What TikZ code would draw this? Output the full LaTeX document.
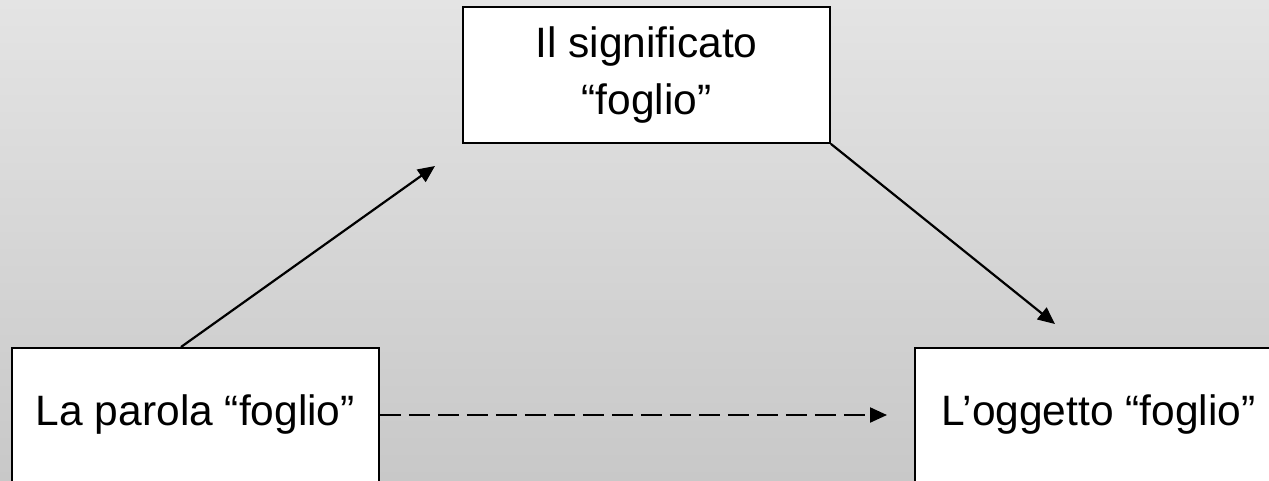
\documentclass[tikz,border=0pt]{standalone}
\usepackage{fontspec}
\setmainfont{Liberation Sans}
\usetikzlibrary{arrows.meta,calc}
\definecolor{bgtop}{HTML}{E4E4E4}
\definecolor{bgbot}{HTML}{C8C8C8}
\begin{document}
\begin{tikzpicture}[x=1pt,y=-1pt,
  box/.style={draw=black,line width=1.8pt,fill=white,inner sep=0pt,
    minimum width=367pt,font=\fontsize{42.5}{57}\selectfont},
  arr/.style={line width=2.2pt,-{Triangle[length=17pt,width=15pt]}},
  dasharr/.style={arr,dash pattern=on 21pt off 8pt}]
\useasboundingbox (0,0) rectangle (1269,480);
\clip (0,0) rectangle (1269,480);
\shade[top color=bgtop,bottom color=bgbot] (0,0) rectangle (1269,480);
\node[box,minimum height=136pt,align=center] (sig) at (646.5,75) {Il significato\\“foglio”};
\node[box,anchor=north west,text height=78pt,text depth=95pt] (par) at (11,347) {La parola “foglio”};
\node[box,anchor=north west,text height=78pt,text depth=95pt] (ogg) at (914,347) {L’oggetto “foglio”};
\coordinate (a1) at (435,166);
\coordinate (a2) at (1055,324);
\coordinate (a3) at (887,415);
\draw[arr] ($(par.north west)+(170,0)$) -- (a1);
\draw[arr] (sig.south east) -- (a2);
\draw[dasharr] (par.east |- a3) -- (a3);
\end{tikzpicture}
\end{document}
